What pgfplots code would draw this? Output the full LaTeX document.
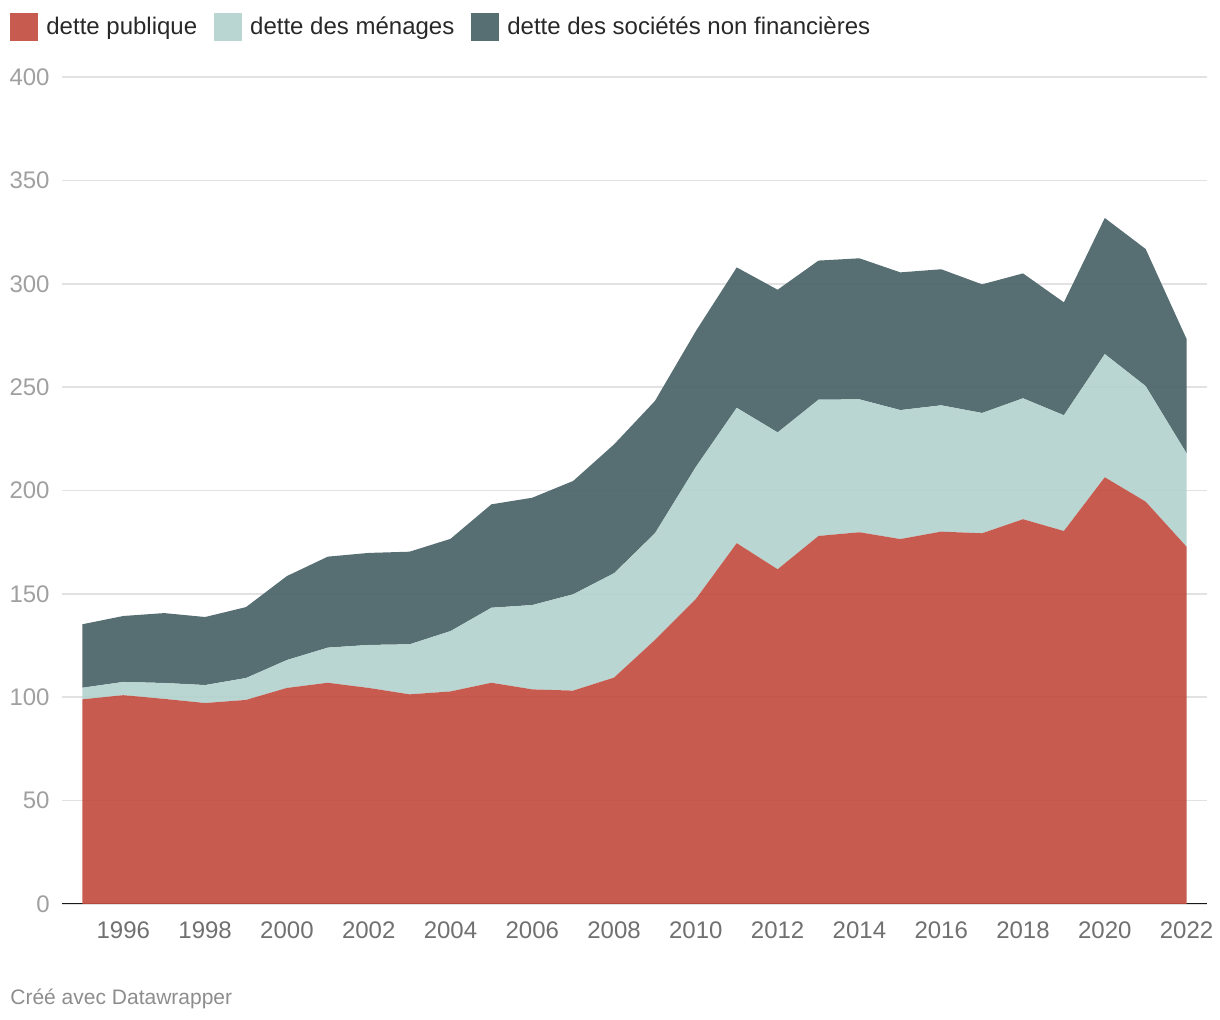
\documentclass[border=0pt]{standalone}
\usepackage{pgfplots}
\pgfplotsset{compat=1.18}
\usepackage{pgfplotstable}
\usepackage{fontspec}
\setmainfont{Liberation Sans}
\definecolor{cpub}{RGB}{194,77,64}
\definecolor{cmen}{RGB}{179,210,206}
\definecolor{csoc}{RGB}{73,98,103}
\definecolor{gridc}{RGB}{226,226,226}
\definecolor{ylab}{RGB}{160,160,160}
\definecolor{xlab}{RGB}{112,112,112}
\definecolor{legtxt}{RGB}{40,40,40}
\pgfplotstableread{
year pub men soc
1995 99.0 5.6 30.7
1996 101.0 6.4 31.9
1997 99.2 7.7 33.8
1998 97.2 8.7 32.9
1999 98.7 10.6 34.3
2000 104.5 13.5 40.6
2001 107.0 17.0 44.0
2002 104.5 20.8 44.5
2003 101.4 24.2 44.8
2004 102.8 29.2 44.6
2005 107.0 36.3 50.0
2006 103.8 40.8 51.9
2007 103.2 46.6 54.8
2008 109.5 50.5 62.3
2009 127.7 51.6 64.0
2010 147.5 63.9 65.7
2011 174.5 65.5 67.9
2012 161.9 66.2 69.0
2013 178.0 65.9 67.3
2014 179.8 64.3 68.2
2015 176.5 62.4 66.6
2016 180.1 61.1 65.8
2017 179.3 58.2 62.2
2018 186.1 58.5 60.4
2019 180.4 56.0 54.6
2020 206.4 59.6 65.8
2021 194.6 55.9 66.3
2022 172.8 45.2 55.3
}\data
\begin{document}
\begin{tikzpicture}
\path[use as bounding box] (0,0) rectangle (610pt,510pt);
\begin{axis}[
  at={(31pt,58pt)}, anchor=south west,
  scale only axis, width=572.5pt, height=413.5pt,
  xmin=1994.5, xmax=2022.5, ymin=0, ymax=400,
  stack plots=y,
  axis line style={draw=none},
  major tick length=0pt,
  ymajorgrids, grid style={color=gridc, line width=0.8pt},
  ytick={0,50,...,400},
  xtick={1996,1998,...,2022},
  /pgf/number format/assume math mode=true,
  xticklabel style={/pgf/number format/1000 sep={}, anchor=north, inner sep=0pt, yshift=-8.5pt, color=xlab, font=\fontsize{12}{14}\selectfont},
  yticklabel style={anchor=east, inner sep=0pt, xshift=-6pt, color=ylab, font=\fontsize{12}{14}\selectfont},
  legend style={at={(axis description cs:0,1)}, anchor=north west, xshift=-26pt, yshift=32pt,
    draw=none, fill=none, inner sep=0pt, legend columns=-1,
    font=\fontsize{12}{14}\selectfont\color{legtxt},
    /tikz/every odd column/.append style={column sep=4pt},
    /tikz/every even column/.append style={column sep=8.5pt},
    nodes={inner sep=0pt}},
  legend cell align=left,
  legend image code/.code={\fill[#1] (0pt,-7pt) rectangle (14pt,7pt);},
]
\addplot[fill=cpub, draw=none, fill opacity=0.92] table[x=year,y=pub]{\data} \closedcycle;
\addlegendentry{dette publique}
\addplot[fill=cmen, draw=none, fill opacity=0.92] table[x=year,y=men]{\data} \closedcycle;
\addlegendentry{dette des ménages}
\addplot[fill=csoc, draw=none, fill opacity=0.92] table[x=year,y=soc]{\data} \closedcycle;
\addlegendentry{dette des sociétés non financières}
\draw[color=black!90, line width=1.2pt] (rel axis cs:0,0) -- (rel axis cs:1,0);
\end{axis}
\node[anchor=west, inner sep=0pt, color=xlab!80, font=\fontsize{10.5}{12}\selectfont] at (5pt,10.5pt) {Créé avec Datawrapper};
\end{tikzpicture}
\end{document}
